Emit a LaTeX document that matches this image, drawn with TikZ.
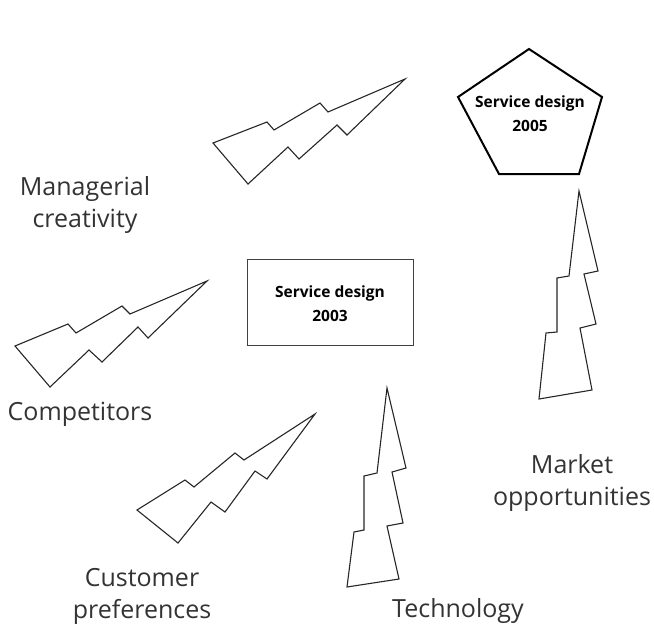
\documentclass[tikz,border=0pt]{standalone}
\usepackage{fontspec}
\setmainfont{Open Sans}
\begin{document}
\begin{tikzpicture}[x=1pt,y=-1pt,
  bolt/.style={draw=black!85,line width=1.1pt,line join=miter},
  lbl/.style={text=black!80,font=\fontsize{25}{32}\selectfont,align=center,inner sep=0pt},
  ttl/.style={font=\bfseries\fontsize{15.5}{24}\selectfont,align=center,inner sep=0pt}]
\useasboundingbox (0,0) rectangle (654,632);
% bolt: managerial creativity
\draw[bolt] (213,143) -- (267,122) -- (274,130) -- (320,103) -- (328,112) -- (405,79)
  -- (347,135) -- (337,125) -- (299,159) -- (288,147) -- (248,184) -- cycle;
% bolt: competitors
\draw[bolt] (15,346) -- (68,324) -- (76,333) -- (122,306) -- (130,314) -- (207,281)
  -- (148,338) -- (138,327) -- (102,362) -- (89,350) -- (50,387) -- cycle;
% bolt: customer preferences
\draw[bolt] (137,510) -- (185,480) -- (194,487) -- (235,453) -- (244,460) -- (315,414)
  -- (267,479) -- (255,471) -- (225,512) -- (211,502) -- (178,543) -- cycle;
% bolt: market opportunities
\draw[bolt] (579,191) -- (598,271) -- (584,274) -- (596,324) -- (580,328) -- (592,390)
  -- (539,399) -- (546,333) -- (557,332) -- (557,278) -- (569,276) -- cycle;
% bolt: technology
\draw[bolt] (387,388) -- (406,468) -- (392,472) -- (403,523) -- (387,526) -- (399,579)
  -- (347,587) -- (354,532) -- (364,530) -- (364,476) -- (377,473) -- cycle;
% box 2003
\draw[draw=black!75,line width=1pt] (247,259) rectangle (413,345);
\node[ttl] (sd2003) at (330,304) {Service design\\2003};
% pentagon 2005
\draw[line width=2pt,line join=miter] (529,49) -- (602,97) -- (579,174) -- (499,174) -- (458,97) -- cycle;
\node[ttl] (sd2005) at (530,114) {Service design\\2005};
% labels
\node[lbl] (mc) at (85,205) {Managerial\\creativity};
\node[lbl] (comp) at (80,414) {Competitors};
\node[lbl] (cust) at (142,596) {Customer\\preferences};
\node[lbl] (tech) at (458,611) {Technology};
\node[lbl] (mkt) at (572,483) {Market\\opportunities};
\end{tikzpicture}
\end{document}
